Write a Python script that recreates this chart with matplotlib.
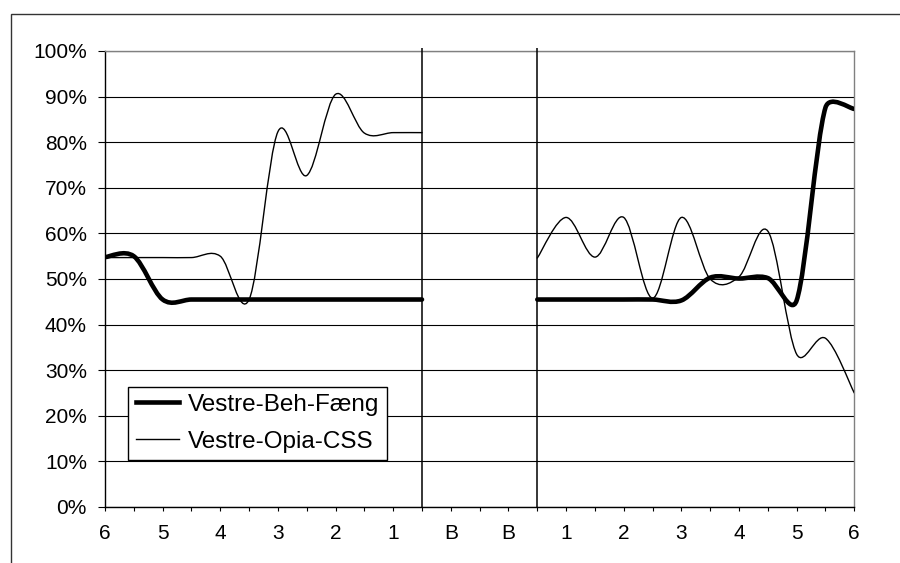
import numpy as np
import matplotlib
matplotlib.use('Agg')
import matplotlib.pyplot as plt
from matplotlib.path import Path
from matplotlib.patches import PathPatch, Rectangle
from matplotlib.lines import Line2D

plt.rcParams['font.family'] = ['Liberation Sans', 'DejaVu Sans']

nan = np.nan

# 27 category slots along the x axis, labelled on every other slot
x_labels = ['6', '5', '4', '3', '2', '1', 'B', 'B', '1', '2', '3', '4', '5', '6']

# share in percent per slot (slots 12-14 have no data)
beh_faeng = [54.8, 55.0, 45.5, 45.5, 45.5, 45.5, 45.5, 45.5, 45.5, 45.5, 45.5, 45.5,
             nan, nan, nan,
             45.5, 45.5, 45.5, 45.5, 45.5, 45.3, 50.3, 50.1, 50.2, 45.3, 87.6, 87.3]
opia_css = [54.7, 54.7, 54.7, 54.7, 55.0, 45.5, 82.3, 72.7, 90.5, 82.0, 82.1, 82.1,
            nan, nan, nan,
            54.6, 63.5, 54.8, 63.5, 45.8, 63.5, 50.0, 50.5, 60.5, 33.5, 37.0, 25.0]

series_names = ['Vestre-Beh-Fæng', 'Vestre-Opia-CSS']
series_widths = [3.3, 1.0]

# vertical separators around the B section
dividers = [11, 15]
y_ticks = list(range(0, 101, 10))


def smooth_path(ax, xs, ys):
    """Bezier path through the points, control points computed like a spreadsheet 'smoothed line'."""
    trans = ax.transData
    pts = trans.transform(np.column_stack([xs, ys]))
    n = len(pts)
    verts = [pts[0]]
    codes = [Path.MOVETO]
    for i in range(n - 1):
        p0 = pts[i - 1] if i > 0 else pts[i]
        p1 = pts[i]
        p2 = pts[i + 1]
        p3 = pts[i + 2] if i + 2 < n else pts[i + 1]
        seg = np.hypot(*(p2 - p1))
        t1 = p2 - p0
        t2 = p3 - p1
        f1 = f2 = 1 / 6
        l1 = np.hypot(*t1)
        l2 = np.hypot(*t2)
        if l1 / 6 > seg / 2:
            f1 = seg / 2 / l1
        if l2 / 6 > seg / 2:
            f2 = seg / 2 / l2
        verts += [p1 + f1 * t1, p2 - f2 * t2, p2]
        codes += [Path.CURVE4] * 3
    verts = trans.inverted().transform(np.array(verts))
    return Path(verts, codes)


def draw_series(ax, values, lw):
    values = np.asarray(values, dtype=float)
    xs = np.arange(len(values))
    ok = ~np.isnan(values)
    # split into runs of valid points
    start = None
    for i in range(len(values) + 1):
        valid = i < len(values) and ok[i]
        if valid and start is None:
            start = i
        elif not valid and start is not None:
            path = smooth_path(ax, xs[start:i], values[start:i])
            ax.add_patch(PathPatch(path, fill=False, edgecolor='black', lw=lw,
                                   joinstyle='round', capstyle='round', zorder=3))
            start = None


fig = plt.figure(figsize=(9, 5.63), dpi=100)

# outer chart frame
fig.add_artist(Rectangle((10.7 / 900, -0.5), 2.0, 1.5 - 14 / 563,
                         transform=fig.transFigure, fill=False,
                         edgecolor='#333333', lw=1.0))

ax = fig.add_axes([105 / 900, 1 - 507 / 563, 749.3 / 900, 456 / 563])
n_slots = len(beh_faeng)
ax.set_xlim(0, n_slots - 1)
ax.set_ylim(0, 100)

ax.set_yticks(y_ticks)
ax.set_yticklabels([f'{v}%' for v in y_ticks])
ax.set_xticks(range(n_slots))
tick_text = [''] * n_slots
for j, lab in enumerate(x_labels):
    tick_text[2 * j] = lab
ax.set_xticklabels(tick_text)

ax.yaxis.grid(True, color='black', lw=0.8)
ax.set_axisbelow(True)
for side in ['top', 'right']:
    ax.spines[side].set_color('#808080')
    ax.spines[side].set_linewidth(1.0)
for side in ['left', 'bottom']:
    ax.spines[side].set_color('black')
    ax.spines[side].set_linewidth(1.0)
ax.tick_params(axis='y', direction='out', length=5, width=0.8, pad=8, labelsize=15)
ax.tick_params(axis='x', direction='out', length=3, width=0.8, pad=9, labelsize=15)

ax.vlines(dividers, 0, 100.7, color='black', lw=1.1, clip_on=False, zorder=4)

for vals, lw in zip([beh_faeng, opia_css], series_widths):
    draw_series(ax, vals, lw)

handles = [Line2D([], [], color='black', lw=w) for w in series_widths]
leg = ax.legend(handles, series_names, loc='upper left',
                bbox_to_anchor=(128.3 / 900, 1 - 386.7 / 563),
                bbox_transform=fig.transFigure, fontsize=17.5,
                frameon=True, fancybox=False, edgecolor='black', framealpha=1,
                borderaxespad=0, borderpad=0.3, handlelength=1.8,
                handletextpad=0.35, labelspacing=0.6)
leg.get_frame().set_linewidth(1.0)
leg.set_zorder(5)

fig.savefig('out.png', dpi=100)
